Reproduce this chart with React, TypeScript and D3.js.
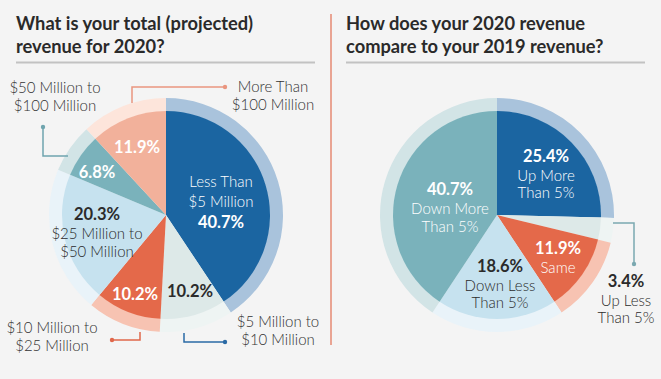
import React from "react";
import * as d3 from "d3";

const W = 661;
const H = 379;

const leftTitle = ["What is your total (projected)", "revenue for 2020?"];
const rightTitle = ["How does your 2020 revenue", "compare to your 2019 revenue?"];

const leftCategories = [
  "Less Than $5 Million",
  "$5 Million to $10 Million",
  "$10 Million to $25 Million",
  "$25 Million to $50 Million",
  "$50 Million to $100 Million",
  "More Than $100 Million",
];
const leftValues = [40.7, 10.2, 10.2, 20.3, 6.8, 11.9];

const rightCategories = [
  "Up More Than 5%",
  "Up Less Than 5%",
  "Same",
  "Down Less Than 5%",
  "Down More Than 5%",
];
const rightValues = [25.4, 3.4, 11.9, 18.6, 40.7];

const leftColors = ["#1b65a1", "#dde9e8", "#e4694a", "#c6e2ef", "#7ab2bb", "#f2b19b"];
const leftRing = ["#a9c3dc", "#eef4f3", "#f7c3b2", "#e9f3f9", "#d2e4e6", "#fde5db"];
const rightColors = ["#1b65a1", "#dde9e8", "#e4694a", "#c6e2ef", "#7ab2bb"];
const rightRing = ["#a9c3dc", "#eef4f3", "#f7c3b2", "#e9f3f9", "#d2e4e6"];

const R_IN = 104;
const R_OUT = 117;
const FONT = "Lato, 'Open Sans', sans-serif";

type Line = { text: string; bold?: boolean; dy: number };
type Label = { x: number; y: number; color: string; lines: Line[] };

function Pie({
  cx,
  cy,
  values,
  colors,
  ring,
}: {
  cx: number;
  cy: number;
  values: number[];
  colors: string[];
  ring: string[];
}) {
  const pie = d3.pie<number>().sort(null).value((d) => d).startAngle(0).endAngle(2 * Math.PI);
  const arcs = pie(values);
  const inner = d3.arc<d3.PieArcDatum<number>>().innerRadius(0).outerRadius(R_IN);
  const outer = d3.arc<d3.PieArcDatum<number>>().innerRadius(R_IN - 0.5).outerRadius(R_OUT);
  return (
    <g transform={`translate(${cx},${cy})`}>
      {arcs.map((a, i) => (
        <g key={i}>
          <path d={outer(a) || ""} fill={ring[i]} />
          <path d={inner(a) || ""} fill={colors[i]} />
        </g>
      ))}
    </g>
  );
}

function Labels({ labels }: { labels: Label[] }) {
  return (
    <g fontFamily={FONT} textAnchor="middle">
      {labels.map((l, i) =>
        l.lines.map((ln, j) => {
          const y = l.y + l.lines.slice(0, j + 1).reduce((s, q) => s + q.dy, 0);
          return (
            <text
              key={`${i}-${j}`}
              x={l.x}
              y={y}
              fill={l.color}
              fontWeight={ln.bold ? 700 : 300}
              fontSize={ln.bold ? 16.5 : 15}
            >
              {ln.text}
            </text>
          );
        })
      )}
    </g>
  );
}

function Leader({ pts, color, dot }: { pts: [number, number][]; color: string; dot: [number, number] }) {
  const line = d3.line();
  return (
    <g>
      <path d={line(pts) || ""} fill="none" stroke={color} strokeWidth={1.5} />
      <circle cx={dot[0]} cy={dot[1]} r={2.2} fill={color} />
    </g>
  );
}

export default function App() {
  const lcx = 166;
  const lcy = 215;
  const rcx = 497;
  const rcy = 215;
  const dark = "#2b2b2b";
  const white = "#ffffff";

  const leftLabels: Label[] = [
    {
      x: 221,
      y: 187,
      color: white,
      lines: [
        { text: "Less Than", dy: 0 },
        { text: "$5 Million", dy: 20 },
        { text: "40.7%", bold: true, dy: 21 },
      ],
    },
    { x: 190, y: 297, color: dark, lines: [{ text: leftValues[1].toFixed(1) + "%", bold: true, dy: 0 }] },
    { x: 135, y: 300, color: white, lines: [{ text: leftValues[2].toFixed(1) + "%", bold: true, dy: 0 }] },
    {
      x: 97,
      y: 220,
      color: dark,
      lines: [
        { text: leftValues[3].toFixed(1) + "%", bold: true, dy: 0 },
        { text: "$25 Million to", dy: 19 },
        { text: "$50 Million", dy: 18 },
      ],
    },
    { x: 97, y: 178, color: white, lines: [{ text: leftValues[4].toFixed(1) + "%", bold: true, dy: 0 }] },
    { x: 137, y: 153, color: white, lines: [{ text: leftValues[5].toFixed(1) + "%", bold: true, dy: 0 }] },
    {
      x: 55,
      y: 93,
      color: "#333",
      lines: [
        { text: "$50 Million to", dy: 0 },
        { text: "$100 Million", dy: 18 },
      ],
    },
    {
      x: 273,
      y: 92,
      color: "#333",
      lines: [
        { text: "More Than", dy: 0 },
        { text: "$100 Million", dy: 18 },
      ],
    },
    {
      x: 52,
      y: 333,
      color: "#333",
      lines: [
        { text: "$10 Million to", dy: 0 },
        { text: "$25 Million", dy: 18 },
      ],
    },
    {
      x: 278,
      y: 327,
      color: "#333",
      lines: [
        { text: "$5 Million to", dy: 0 },
        { text: "$10 Million", dy: 18 },
      ],
    },
  ];

  const rightLabels: Label[] = [
    {
      x: 546,
      y: 162,
      color: white,
      lines: [
        { text: rightValues[0].toFixed(1) + "%", bold: true, dy: 0 },
        { text: "Up More", dy: 19 },
        { text: "Than 5%", dy: 17 },
      ],
    },
    {
      x: 450,
      y: 195,
      color: white,
      lines: [
        { text: rightValues[4].toFixed(1) + "%", bold: true, dy: 0 },
        { text: "Down More", dy: 19 },
        { text: "Than 5%", dy: 18 },
      ],
    },
    {
      x: 558,
      y: 254,
      color: white,
      lines: [
        { text: rightValues[2].toFixed(1) + "%", bold: true, dy: 0 },
        { text: "Same", dy: 19 },
      ],
    },
    {
      x: 500,
      y: 272,
      color: dark,
      lines: [
        { text: rightValues[3].toFixed(1) + "%", bold: true, dy: 0 },
        { text: "Down Less", dy: 19 },
        { text: "Than 5%", dy: 17 },
      ],
    },
    {
      x: 626,
      y: 287,
      color: dark,
      lines: [
        { text: rightValues[1].toFixed(1) + "%", bold: true, dy: 0 },
        { text: "Up Less", dy: 19 },
        { text: "Than 5%", dy: 17 },
      ],
    },
  ];

  return (
    <svg width={W} height={H} style={{ display: "block", position: "absolute", left: 0, top: 0 }}>
      <rect width={W} height={H} fill="#f4f4f4" />
      {/* divider */}
      <line x1={331} y1={14} x2={331} y2={345} stroke="#e9a493" strokeWidth={2} />

      {/* titles */}
      <g fontFamily={FONT} fontWeight={700} fontSize={18.3} fill="#2a2a2a">
        <text x={16} y={30}>{leftTitle[0]}</text>
        <text x={16} y={53}>{leftTitle[1]}</text>
        <text x={346} y={30}>{rightTitle[0]}</text>
        <text x={346} y={53}>{rightTitle[1]}</text>
      </g>
      <line x1={16} y1={62.5} x2={315} y2={62.5} stroke="#c2c2c2" strokeWidth={2} />
      <line x1={346} y1={62.5} x2={645} y2={62.5} stroke="#c2c2c2" strokeWidth={2} />

      <Pie cx={lcx} cy={lcy} values={leftValues} colors={leftColors} ring={leftRing} />
      <Pie cx={rcx} cy={rcy} values={rightValues} colors={rightColors} ring={rightRing} />

      {/* leader lines */}
      <Leader pts={[[43, 127], [43, 156], [68, 156]]} color="#6fa4ae" dot={[43, 127]} />
      <Leader pts={[[225, 87], [132, 87], [132, 103]]} color="#e9957f" dot={[225, 87]} />
      <Leader pts={[[112, 340], [140, 340], [140, 332]]} color="#e0674a" dot={[112, 340]} />
      <Leader pts={[[184, 333], [184, 342], [225, 342]]} color="#2a6aa5" dot={[225, 342]} />
      <Leader pts={[[613, 223], [634, 223], [634, 264]]} color="#7aa8b0" dot={[634, 264]} />

      <Labels labels={leftLabels} />
      <Labels labels={rightLabels} />
    </svg>
  );
}
